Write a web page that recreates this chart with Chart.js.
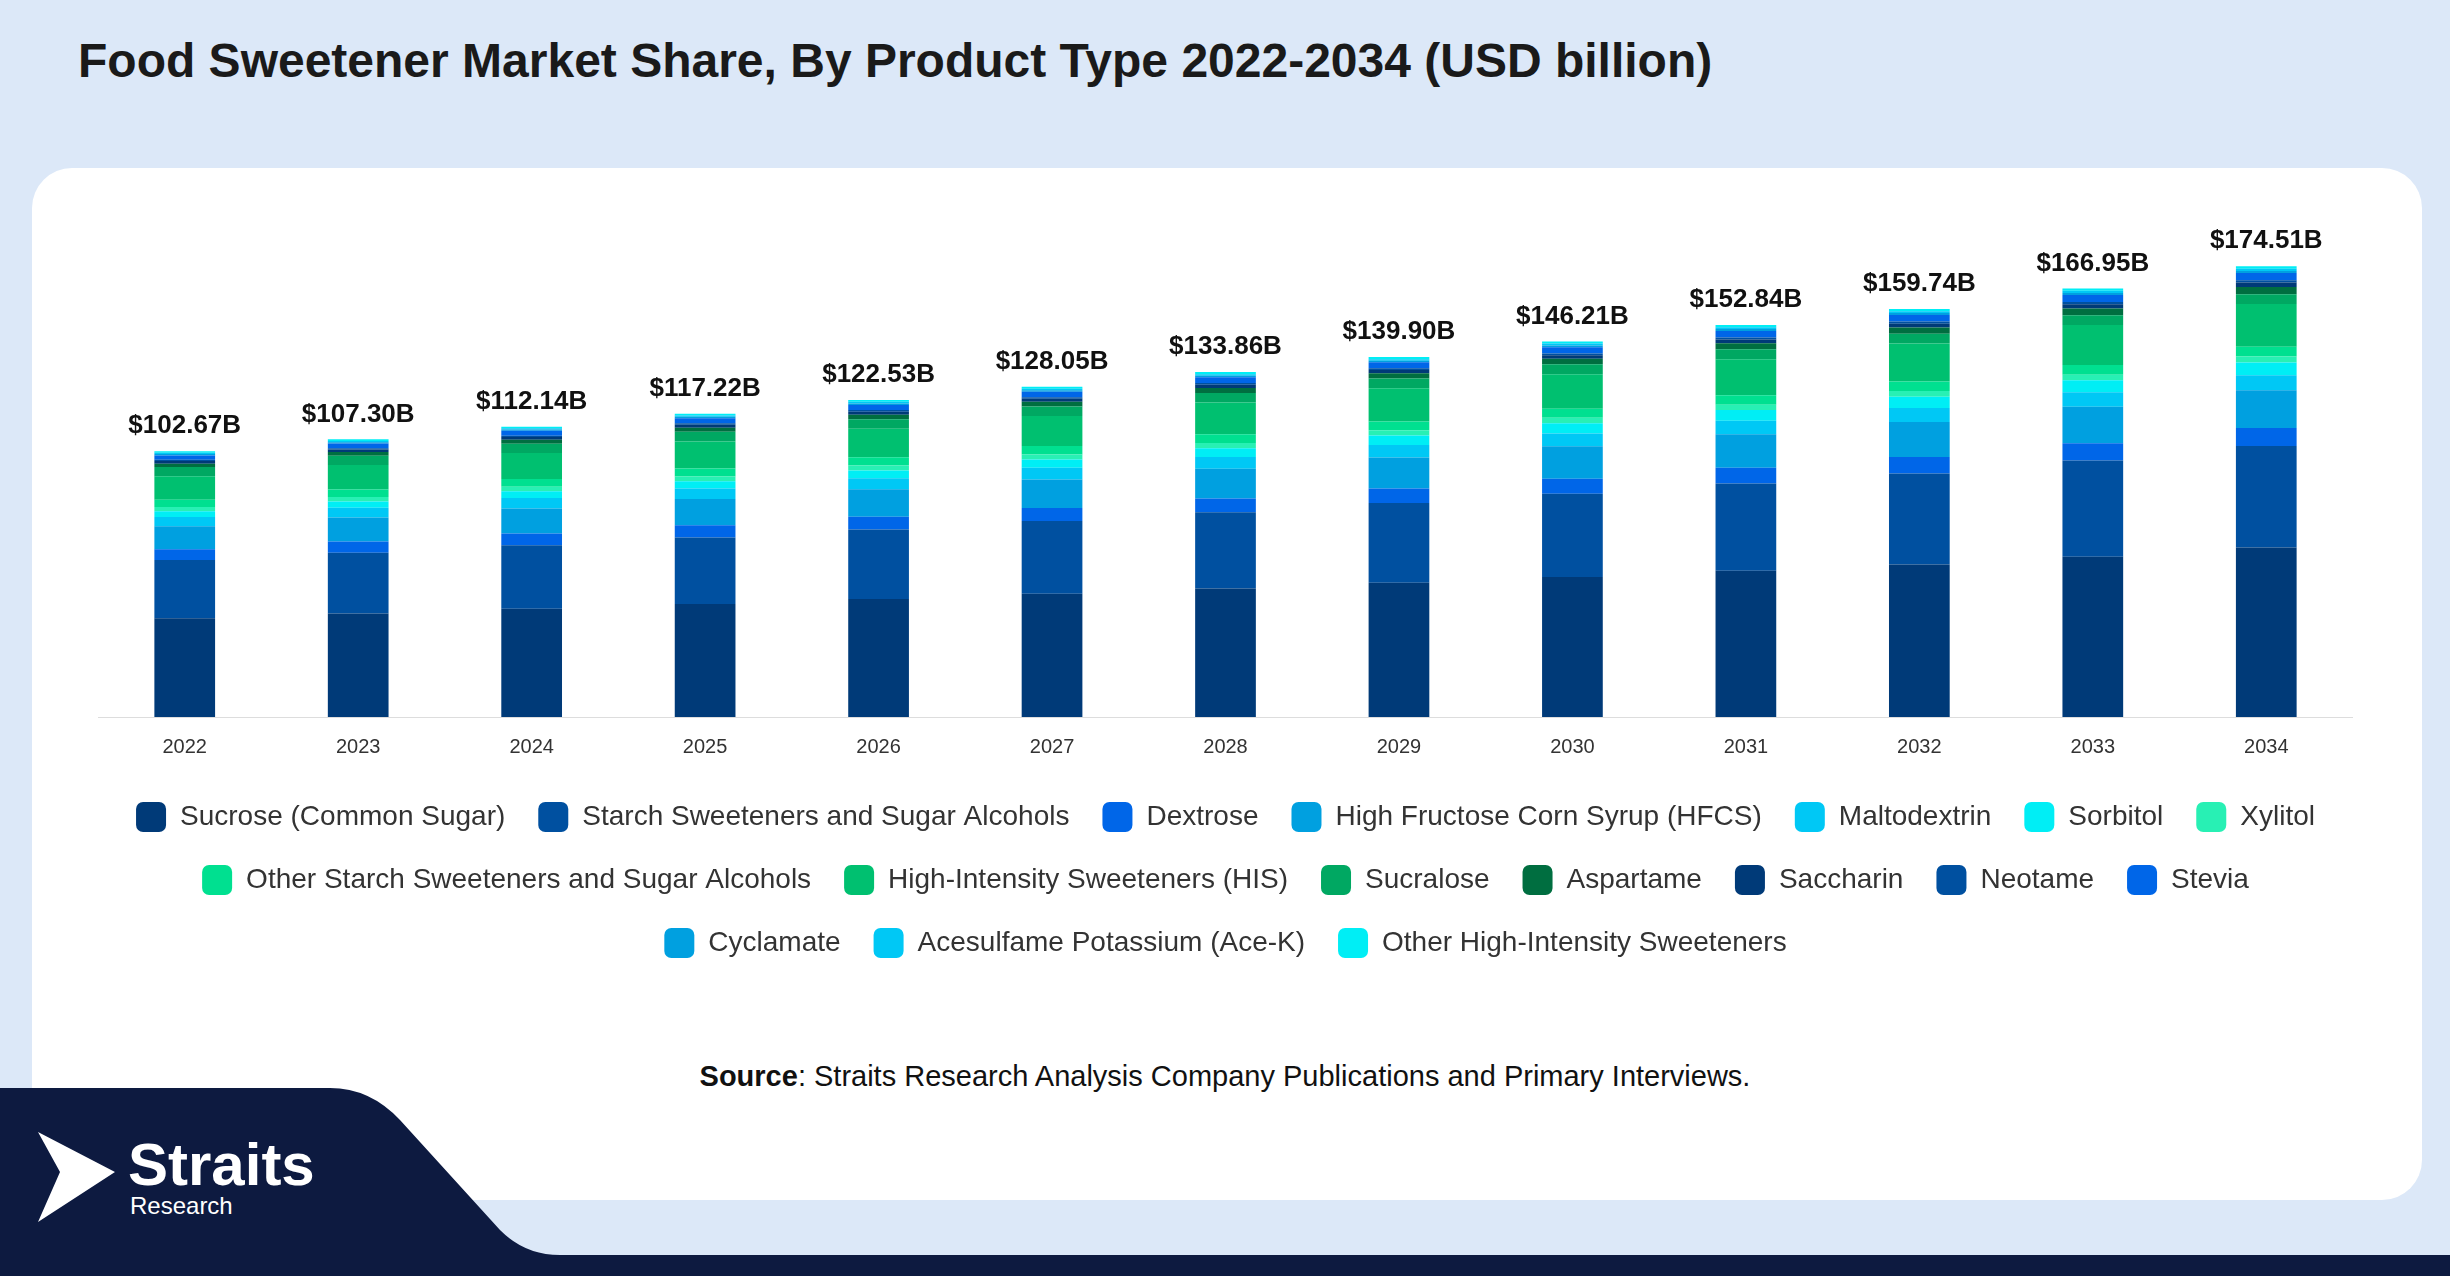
<!DOCTYPE html>
<html><head><meta charset="utf-8">
<script src="https://cdn.jsdelivr.net/npm/chart.js@4/dist/chart.umd.min.js"></script>
<style>
html,body{margin:0;padding:0;}
body{width:2450px;height:1276px;background:#dce8f8;position:relative;overflow:hidden;font-family:"Liberation Sans",Arial,sans-serif;}
#title{position:absolute;left:78px;top:33px;font-size:48px;font-weight:bold;color:#1a1a1a;}
#card{position:absolute;left:32px;top:168px;width:2390px;height:1032px;background:#fff;border-radius:40px;}
#wrap{position:absolute;left:98px;top:190px;width:2255px;height:778px;}
#src{position:absolute;left:0;width:2450px;top:1060px;text-align:center;font-size:29px;color:#111;}
#logo{position:absolute;left:0;top:0;}
</style></head><body>
<div id="title">Food Sweetener Market Share, By Product Type 2022-2034 (USD billion)</div>
<div id="card"></div>
<svg id="logo" width="2450" height="1276">
<path d="M0,1088 L330,1088 Q370,1088 400,1120 L500,1230 Q525,1255 560,1255 L2450,1255 L2450,1276 L0,1276 Z" fill="#0d1a40"/>
<path d="M38,1132 L115,1172 L38,1222 L60,1172 Z" fill="#fff"/>
<text x="128" y="1185" fill="#fff" font-family="Liberation Sans" font-weight="bold" font-size="60">Straits</text>
<text x="130" y="1214" fill="#fff" font-family="Liberation Sans" font-size="24">Research</text>
</svg>
<div id="wrap"><canvas id="c"></canvas></div>
<div id="src"><b>Source</b>: Straits Research Analysis Company Publications and Primary Interviews.</div>
<script>
const years=["2022","2023","2024","2025","2026","2027","2028","2029","2030","2031","2032","2033","2034"];
const totals=[102.67,107.30,112.14,117.22,122.53,128.05,133.86,139.90,146.21,152.84,159.74,166.95,174.51];
const seriesNames=["Sucrose (Common Sugar)","Starch Sweeteners and Sugar Alcohols","Dextrose","High Fructose Corn Syrup (HFCS)","Maltodextrin","Sorbitol","Xylitol","Other Starch Sweeteners and Sugar Alcohols","High-Intensity Sweeteners (HIS)","Sucralose","Aspartame","Saccharin","Neotame","Stevia","Cyclamate","Acesulfame Potassium (Ace-K)","Other High-Intensity Sweeteners"];
const sucrose=[38.2,40.0,41.8,43.7,45.6,47.6,49.7,51.9,54.1,56.5,58.9,61.9,65.5];
const starch=[22.5,23.5,24.6,25.7,26.9,28.1,29.4,30.8,32.2,33.7,35.2,37.2,39.2];
const dextrose=[4.1,4.3,4.5,4.7,4.9,5.1,5.3,5.6,5.8,6.1,6.4,6.7,7.0];
const hfcs=[8.9,9.3,9.7,10.1,10.6,11.0,11.5,12.0,12.5,13.0,13.5,14.1,14.6];
const malto=[3.6,3.8,4.0,4.1,4.3,4.5,4.6,4.8,5.0,5.2,5.4,5.6,5.8];
const sorbitol=[2.2,2.4,2.6,2.8,3.0,3.2,3.4,3.7,3.9,4.1,4.4,4.6,4.9];
const xylitol=[1.7,1.7,1.8,1.8,1.9,1.9,2.0,2.0,2.1,2.1,2.2,2.2,2.3];
const otherStarch=[2.8,2.9,3.0,3.1,3.2,3.3,3.4,3.4,3.5,3.6,3.7,3.7,3.8];
const his=[9.0,9.5,10.0,10.5,11.0,11.6,12.2,12.8,13.4,14.0,14.6,15.5,16.5];
const sucralose=[3.6,3.6,3.6,3.7,3.7,3.7,3.7,3.8,3.8,3.8,3.8,3.8,3.8];
const aspartame=[1.3,1.4,1.5,1.6,1.7,1.8,1.9,2.0,2.1,2.3,2.4,2.6,2.8];
const saccharin=[1.0,1.0,1.1,1.1,1.2,1.2,1.3,1.3,1.4,1.5,1.5,1.6,1.7];
const neotame=[0.5,0.5,0.5,0.6,0.6,0.6,0.7,0.7,0.7,0.8,0.8,0.9,0.9];
const stevia=[1.7,1.8,1.9,2.0,2.0,2.1,2.2,2.3,2.4,2.5,2.6,2.7,2.8];
const cyclamate=[0.5,0.5,0.5,0.5,0.6,0.6,0.6,0.6,0.7,0.7,0.7,0.8,0.8];
const aceK=[0.5,0.5,0.5,0.5,0.6,0.6,0.6,0.6,0.7,0.7,0.7,0.8,0.8];
const otherHis=[0.6,0.6,0.6,0.7,0.7,0.7,0.8,0.8,0.8,0.9,0.9,0.9,1.0];
const seriesData=[sucrose,starch,dextrose,hfcs,malto,sorbitol,xylitol,otherStarch,his,sucralose,aspartame,saccharin,neotame,stevia,cyclamate,aceK,otherHis];
const colors=["#003a78","#0050a0","#0066e8","#00a0e0","#00c8f5","#00eef5","#28f0b4","#00e090","#00c070","#00a862","#006e40","#003a78","#0050a0","#0066e8","#00a0e0","#00c8f5","#00eef5"];
const totalLabels={id:'tl',afterDatasetsDraw(ch){const ctx=ch.ctx;const meta=ch.getDatasetMeta(seriesData.length-1);ctx.save();ctx.font='bold 26px "Liberation Sans"';ctx.fillStyle='#111';ctx.textAlign='center';ctx.textBaseline='bottom';
meta.data.forEach((b,i)=>{ctx.fillText('$'+totals[i].toFixed(2)+'B',b.x,b.y-12);});ctx.restore();}};
new Chart(document.getElementById('c'),{type:'bar',
data:{labels:years,datasets:seriesData.map((d,i)=>({label:seriesNames[i],data:d,backgroundColor:colors[i],borderWidth:0,barPercentage:0.7,categoryPercentage:0.5}))},
options:{responsive:true,maintainAspectRatio:false,animation:false,
layout:{padding:{top:25,left:0,right:0}},
scales:{x:{stacked:true,grid:{display:false},border:{color:'#ddd'},ticks:{font:{size:20,family:'Liberation Sans'},color:'#333',padding:10}},
y:{stacked:true,display:false,min:0,max:194}},
plugins:{tooltip:{enabled:false},legend:{position:'bottom',labels:{font:{size:28,family:'Liberation Sans'},color:'#333',boxWidth:30,boxHeight:30,useBorderRadius:true,borderRadius:7,padding:33}}}},
plugins:[totalLabels]});
</script></body></html>
